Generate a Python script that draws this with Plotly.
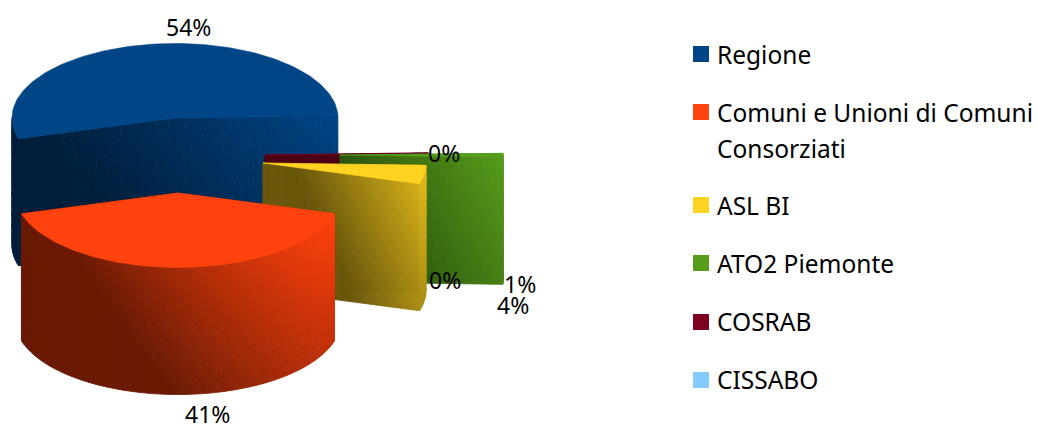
import math
import plotly.graph_objects as go

# ---- data ----
categories = ["Regione", "Comuni e Unioni di Comuni<br>Consorziati", "ASL BI", "ATO2 Piemonte", "COSRAB", "CISSABO"]
values = [54.0, 41.0, 4.0, 0.85, 0.15, 0.0]
percent_labels = ["54%", "41%", "4%", "1%", "0%", "0%"]
colors = ["#004586", "#ff420e", "#ffd320", "#579d1c", "#7e0021", "#83caff"]

# ---- view constants (pixel-like canvas units) ----
W, H = 1037, 425
RX, RY, DEPTH = 163, 74.5, 127
START = 88.2                # degrees clockwise from 12 o'clock; slices run counter-clockwise
centers = [(175, 118), (178, 193), (263, 163), (340, 155), (265, 155), (265, 155)]
label_pos = [(188, 27), (207, 414), (513, 305), (520, 284), (444, 153), (445, 280)]
legend_y = [54, 112, 205, 263, 322, 380]
legend_text_y = [54, 112, 205, 263, 321, 379]
LEGEND_X, LEGEND_TX = 701, 716
FONT = "Noto Sans"
LABEL_SIZE, LEGEND_SIZE = 23, 24.5
# shading: brightness floor, and s = c + a*u - d*v (u across, v down the wall)
shade = [(0.45, -0.1, 1.1, 0.35), (0.42, -0.2, 1.2, 0.4), (0.42, -0.2, 1.0, 0.35),
         (0.55, 0.0, 1.0, 0.4), (0.62, 0, 0, 0), (0.6, 0, 0, 0)]
LEVELS = 48


def rgb(h):
    return tuple(int(h[i:i + 2], 16) for i in (1, 3, 5))


def pt(c, theta):
    t = math.radians(theta)
    return (c[0] + RX * math.sin(t), c[1] - RY * math.cos(t))


def arc(c, a0, a1, n=None):
    n = n or max(2, int(abs(a1 - a0) / 1.5))
    return [pt(c, a0 + (a1 - a0) * i / n) for i in range(n + 1)]


def subdiv(p, q, n=60):
    return [(p[0] + (q[0] - p[0]) * i / n, p[1] + (q[1] - p[1]) * i / n) for i in range(n + 1)]


fig = go.Figure()


def add_poly(xs, ys, color, width=0.6):
    fig.add_trace(go.Scatter(x=xs, y=ys, mode="lines", fill="toself", fillcolor=color,
                             line=dict(color=color, width=width), hoverinfo="skip", showlegend=False))


def add_wall(top, base, idx, xmin, xmax, rows=24):
    floor, c0, a, d = shade[idx]
    buckets = {}
    for (x0, y0), (x1, y1) in zip(top, top[1:]):
        for r in range(rows):
            v0, v1 = r / rows, (r + 1) / rows
            u = ((x0 + x1) / 2 - xmin) / max(1, xmax - xmin)
            s = min(1, max(0, c0 + a * u - d * (v0 + v1) / 2))
            lvl = round(s * LEVELS)
            bx, by = buckets.setdefault(lvl, ([], []))
            bx += [x0, x1, x1, x0, x0, None]
            by += [y0 + DEPTH * v0, y1 + DEPTH * v0, y1 + DEPTH * v1, y0 + DEPTH * v1, y0 + DEPTH * v0, None]
    for lvl in sorted(buckets):
        b = floor + (1 - floor) * lvl / LEVELS
        col = "rgb(%d,%d,%d)" % tuple(int(k * b) for k in base)
        add_poly(buckets[lvl][0], buckets[lvl][1], col, 0.8)


# slice angles from the values
total = sum(values)
angles = []
cur = START
for v in values:
    nxt = cur - 360 * v / total
    angles.append((cur, nxt))
    cur = nxt

for i in [0, 4, 3, 2, 1]:      # back to front
    c = centers[i]
    a0, a1 = angles[i]
    base = rgb(colors[i])
    edge0, edge1 = pt(c, a0), pt(c, a1)
    outer = arc(c, a1, a0)
    xs = [p[0] for p in outer] + [c[0]]
    xmin, xmax = min(xs), max(xs)
    # outer wall: only the part that faces the viewer
    if i == 0:
        add_wall(arc(c, a1, -90), base, i, xmin, xmax, rows=12)
    # inner walls
    add_wall(subdiv(c, edge0), base, i, xmin, xmax)
    add_wall(subdiv(c, edge1), base, i, xmin, xmax)
    if i != 0:
        add_wall(arc(c, a1, a0), base, i, xmin, xmax)
    # top face
    add_poly([c[0]] + [p[0] for p in outer] + [c[0]],
             [c[1]] + [p[1] for p in outer] + [c[1]], colors[i])

# legend swatches
fig.add_trace(go.Scatter(x=[LEGEND_X] * len(categories), y=legend_y, mode="markers",
                         marker=dict(symbol="square", size=16, color=colors, line=dict(width=0)),
                         hoverinfo="skip", showlegend=False))

annotations = []
for (x, y), t in zip(label_pos, percent_labels):
    annotations.append(dict(x=x, y=y, text=t, showarrow=False, xanchor="center", yanchor="middle", borderpad=0,
                            font=dict(family=FONT, size=LABEL_SIZE, color="#000000")))
for name, y in zip(categories, legend_text_y):
    parts = name.split("<br>")
    for k, part in enumerate(parts):
        annotations.append(dict(x=LEGEND_TX, y=y + 36 * k, text=part, showarrow=False, xanchor="left", borderpad=0,
                                yanchor="middle", font=dict(family=FONT, size=LEGEND_SIZE, color="#000000")))

fig.update_layout(
    width=W, height=H, margin=dict(l=0, r=0, t=0, b=0),
    paper_bgcolor="white", plot_bgcolor="white", showlegend=False,
    xaxis=dict(range=[0, W], visible=False, fixedrange=True),
    yaxis=dict(range=[H, 0], visible=False, fixedrange=True),
    annotations=annotations,
)
fig.write_html("out.html", config={"displayModeBar": False},
               post_script="document.body.style.margin='0';document.body.style.overflow='hidden';")
